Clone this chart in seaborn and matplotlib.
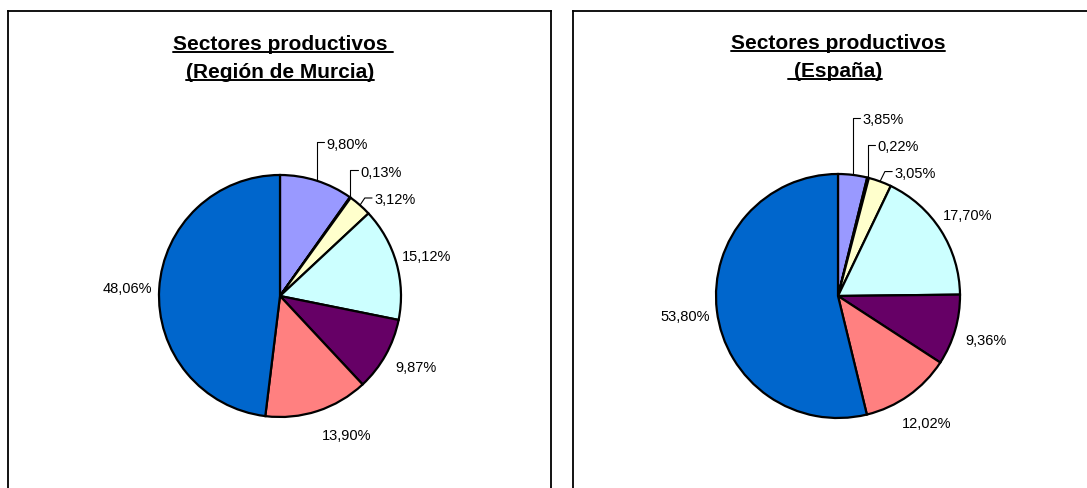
import numpy as np
import matplotlib
matplotlib.use("Agg")
import matplotlib.pyplot as plt
import seaborn as sns
from matplotlib.lines import Line2D

# shares of each productive sector (clockwise from 12 o'clock)
murcia_pct = [9.80, 0.13, 3.12, 15.12, 9.87, 13.90, 48.06]
espana_pct = [3.85, 0.22, 3.05, 17.70, 9.36, 12.02, 53.80]
sector_colors = ["#9999FF", "#993366", "#FFFFCC", "#CCFFFF", "#660066", "#FF8080", "#0066CC"]

murcia_title = ["Sectores productivos ", "(Región de Murcia)"]
espana_title = ["Sectores productivos", " (España)"]

W, H = 1087, 489

sns.set_theme(style="white")
plt.rcParams["font.family"] = ["Liberation Sans", "DejaVu Sans"]
plt.rcParams["text.color"] = "black"

fig = plt.figure(figsize=(W / 100, H / 100), dpi=100)
fig.patch.set_facecolor("white")

title_size = 15
label_size = 10.5


def fmt(v):
    return f"{v:.2f}".replace(".", ",") + "%"


def pie_panel(box, center, R, values, title_lines, title_base, leader_levels, label_angles):
    x0, y0, x1, y1 = box
    cx, cy = center
    ax = fig.add_axes([x0 / W, 1 - y1 / H, (x1 - x0) / W, (y1 - y0) / H])
    wedges, _ = ax.pie(values, colors=sector_colors, startangle=90, counterclock=False,
                       wedgeprops=dict(edgecolor="black", linewidth=1.6))
    ax.set_xlim((x0 - cx) / R, (x1 - cx) / R)
    ax.set_ylim((cy - y1) / R, (cy - y0) / R)
    ax.set_aspect("auto")
    ax.set_frame_on(True)
    for s in ax.spines.values():
        s.set_visible(True)
        s.set_color("black")
        s.set_linewidth(1.3)
    ax.set_xticks([])
    ax.set_yticks([])

    # percentage labels
    for i, (w, v) in enumerate(zip(wedges, values)):
        mid = np.deg2rad((w.theta1 + w.theta2) / 2)
        if i in leader_levels:
            ex, ey = np.cos(mid), np.sin(mid)
            ly = leader_levels[i]
            kx = ex + (0.04 if ly - ey < 0.15 else 0)
            ax.plot([ex, kx, kx + 0.06], [ey, ly, ly], color="black", lw=0.8, clip_on=False)
            ax.text(kx + 0.08, ly, fmt(v), ha="left", va="center_baseline",
                    fontsize=label_size, color="black")
        else:
            ang = mid
            if i in label_angles:
                ang = np.deg2rad(90 - label_angles[i])
            r = 1.26
            ax.text(r * np.cos(ang), r * np.sin(ang), fmt(v), ha="center",
                    va="center_baseline", fontsize=label_size, color="black")

    # titles (bold, underlined)
    titles = []
    for line, base in zip(title_lines, title_base):
        t = ax.text(0, (cy - base) / R, line.strip(), ha="center", va="baseline",
                    fontsize=title_size, fontweight="bold", color="black")
        titles.append((t, line, base))
    return titles


left_titles = pie_panel((8, 12, 551, 495), (280, 297), 121, murcia_pct, murcia_title,
                        [50, 78], {0: 1.27, 1: 1.04, 2: 0.81}, {4: 117, 5: 154})
right_titles = pie_panel((573, 12, 1095, 495), (838, 297), 122, espana_pct, espana_title,
                         [49, 77], {0: 1.46, 1: 1.24, 2: 1.02}, {})

fig.canvas.draw()
renderer = fig.canvas.get_renderer()
space_w = title_size * 0.278 * 100 / 72
for t, line, base in left_titles + right_titles:
    bb = t.get_window_extent(renderer)
    xa, xb = bb.x0, bb.x1
    if line.startswith(" "):
        xa -= space_w
    if line.endswith(" "):
        xb += space_w
    yu = H - base - 2.5
    fig.add_artist(Line2D([xa / W, xb / W], [yu / H, yu / H], transform=fig.transFigure,
                          color="black", lw=1.4))

fig.savefig("out.png", dpi=100, facecolor="white")
